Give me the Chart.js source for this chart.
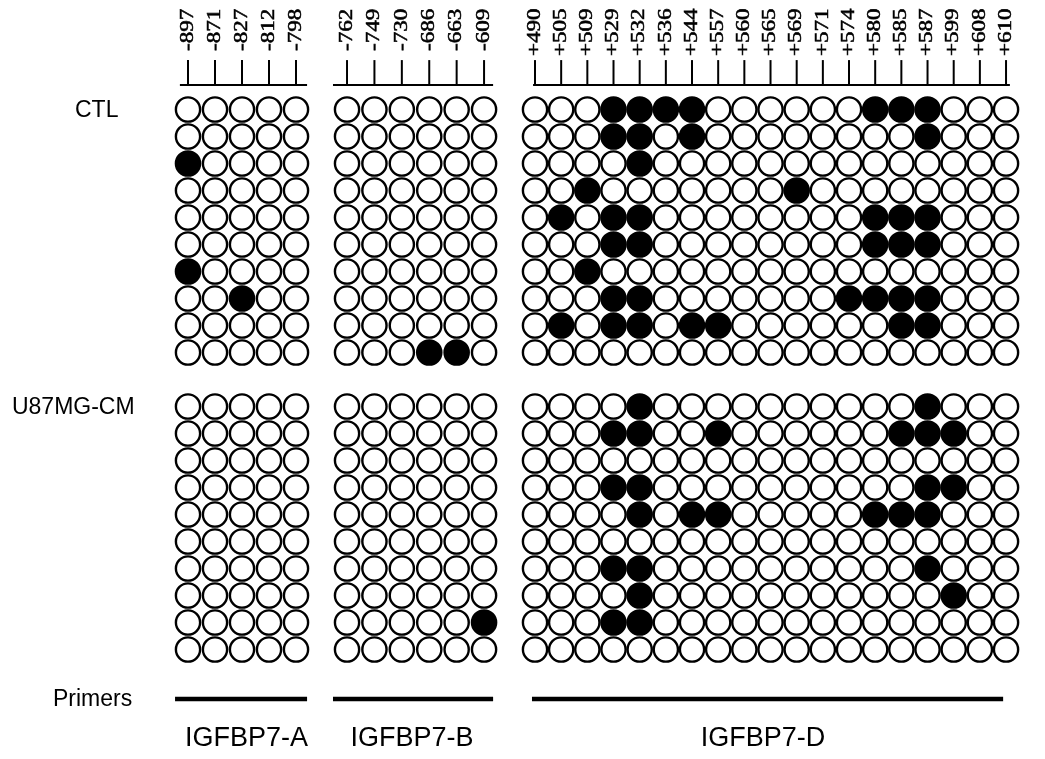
<!DOCTYPE html>
<html>
<head>
<meta charset="utf-8">
<title>IGFBP7 promoter methylation</title>
<script src="https://cdn.jsdelivr.net/npm/chart.js@4.4.1/dist/chart.umd.min.js"></script>
<style>
  html, body { margin: 0; padding: 0; background: #ffffff; }
  canvas { display: block; background: #ffffff; }
</style>
</head>
<body>
<canvas id="c" width="1045" height="759"></canvas>
<script>
// ---------- data ----------
const sitesA = ['-897', '-871', '-827', '-812', '-798'];
const sitesB = ['-762', '-749', '-730', '-686', '-663', '-609'];
const sitesD = ['+490', '+505', '+509', '+529', '+532', '+536', '+544', '+557', '+560', '+565',
                '+569', '+571', '+574', '+580', '+585', '+587', '+599', '+608', '+610'];
const sampleNames = ['CTL', 'U87MG-CM'];
const primerNames = ['IGFBP7-A', 'IGFBP7-B', 'IGFBP7-D'];
const primerRowLabel = 'Primers';

// 1 = methylated CpG (filled), 0 = unmethylated (open); one string per sequenced clone
const ctlA = ['00000', '00000', '10000', '00000', '00000', '00000', '10000', '00100', '00000', '00000'];
const ctlB = ['000000', '000000', '000000', '000000', '000000', '000000', '000000', '000000', '000000', '000110'];
const ctlD = [
  '0001111000000111000',
  '0001101000000001000',
  '0000100000000000000',
  '0010000000100000000',
  '0101100000000111000',
  '0001100000000111000',
  '0010000000000000000',
  '0001100000001111000',
  '0101101100000011000',
  '0000000000000000000'
];
const u87A = ['00000', '00000', '00000', '00000', '00000', '00000', '00000', '00000', '00000', '00000'];
const u87B = ['000000', '000000', '000000', '000000', '000000', '000000', '000000', '000000', '000001', '000000'];
const u87D = [
  '0000100000000001000',
  '0001100100000011100',
  '0000000000000000000',
  '0001100000000001100',
  '0000101100000111000',
  '0000000000000000000',
  '0001100000000001000',
  '0000100000000000100',
  '0001100000000000000',
  '0000000000000000000'
];

// ---------- layout (scale units) ----------
const groupLayout = [
  { sites: sitesA, start: 0,      step: 1,      axisLine: [-0.30, 4.41], primerLine: [-0.48, 4.41], labelX: 2.17,  tickTextY: 51 },
  { sites: sitesB, start: 5.89,   step: 1.015,  axisLine: [5.37, 11.30], primerLine: [5.37, 11.30], labelX: 8.30,  tickTextY: 51 },
  { sites: sitesD, start: 12.852, step: 0.9692, axisLine: [12.78, 30.44], primerLine: [12.74, 30.19], labelX: 21.30, tickTextY: 56 }
];
const samplePatterns = [[ctlA, ctlB, ctlD], [u87A, u87B, u87D]];
const sampleRowStart = [0, 11];
const sampleLabelX = [-4.185, -6.52];
const primerLabelX = -5.0;

// ---------- build points ----------
const openPts = [], filledPts = [];
samplePatterns.forEach((groups, s) => {
  groups.forEach((rows, g) => {
    const gl = groupLayout[g];
    rows.forEach((row, r) => {
      row.split('').forEach((v, c) => {
        const pt = { x: gl.start + c * gl.step, y: sampleRowStart[s] + r };
        (v === '1' ? filledPts : openPts).push(pt);
      });
    });
  });
});

// ---------- decorations drawn through the scales ----------
const decor = {
  id: 'decor',
  afterDraw(chart) {
    const ctx = chart.ctx;
    const xs = chart.scales.x, ys = chart.scales.y;
    const X = v => xs.getPixelForValue(v);
    const Y = v => ys.getPixelForValue(v);
    const axisY = Y(-0.907), tickTop = Y(-1.83);
    ctx.save();
    ctx.strokeStyle = '#000';
    ctx.fillStyle = '#000';
    groupLayout.forEach(gl => {
      // baseline
      ctx.lineWidth = 2;
      ctx.beginPath();
      ctx.moveTo(X(gl.axisLine[0]), axisY);
      ctx.lineTo(X(gl.axisLine[1]), axisY);
      ctx.stroke();
      gl.sites.forEach((lab, c) => {
        const px = X(gl.start + c * gl.step);
        ctx.lineWidth = 2;
        ctx.beginPath();
        ctx.moveTo(px, axisY);
        ctx.lineTo(px, tickTop);
        ctx.stroke();
        ctx.save();
        ctx.translate(px, gl.tickTextY);
        ctx.rotate(-Math.PI / 2);
        ctx.scale(1.28, 1);
        ctx.font = '18px "Liberation Serif", "Times New Roman", serif';
        ctx.textAlign = 'left';
        ctx.textBaseline = 'middle';
        ctx.lineWidth = 0.5;
        ctx.fillText(lab, 0, 0);
        ctx.strokeText(lab, 0, 0);
        ctx.restore();
      });
      // primer bar
      ctx.lineWidth = 4.5;
      ctx.beginPath();
      ctx.moveTo(X(gl.primerLine[0]), Y(21.83));
      ctx.lineTo(X(gl.primerLine[1]), Y(21.83));
      ctx.stroke();
    });
    // sample labels
    ctx.font = '23px "Liberation Sans", Arial, sans-serif';
    ctx.textAlign = 'left';
    ctx.textBaseline = 'middle';
    sampleNames.forEach((n, s) => ctx.fillText(n, X(sampleLabelX[s]), Y(sampleRowStart[s]) + 1));
    ctx.fillText(primerRowLabel, X(primerLabelX), Y(21.86));
    // primer names
    ctx.font = '27px "Liberation Sans", Arial, sans-serif';
    ctx.textAlign = 'center';
    primerNames.forEach((n, g) => ctx.fillText(n, X(groupLayout[g].labelX), Y(23.28)));
    ctx.restore();
  }
};

const pointStyle = { pointRadius: 12.1, pointHoverRadius: 12.1, pointBorderWidth: 2.4, pointHoverBorderWidth: 2.4, showLine: false, clip: false };

new Chart(document.getElementById('c').getContext('2d'), {
  type: 'scatter',
  data: {
    datasets: [
      Object.assign({ label: 'Unmethylated', data: openPts, pointBackgroundColor: '#ffffff', pointBorderColor: '#000000' }, pointStyle),
      Object.assign({ label: 'Methylated', data: filledPts, pointBackgroundColor: '#000000', pointBorderColor: '#000000' }, pointStyle)
    ]
  },
  options: {
    responsive: false,
    animation: false,
    devicePixelRatio: 1,
    events: [],
    layout: { padding: { left: 174.5, right: 25.4, top: 96, bottom: 96 } },
    plugins: { legend: { display: false }, tooltip: { enabled: false } },
    scales: {
      x: { type: 'linear', display: false, min: -0.5, max: 30.8 },
      y: { type: 'linear', display: false, min: -0.5, max: 20.5, reverse: true }
    }
  },
  plugins: [decor]
});
</script>
</body>
</html>
